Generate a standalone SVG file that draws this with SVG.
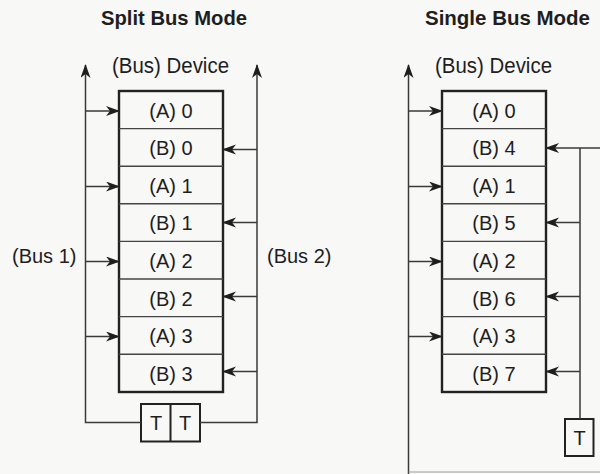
<svg xmlns="http://www.w3.org/2000/svg" width="600" height="474" viewBox="0 0 600 474">
<defs>
<marker id="ah" markerWidth="14" markerHeight="11" refX="13" refY="5" orient="auto" markerUnits="userSpaceOnUse">
<path d="M0,0 L14,5 L0,10 L4,5 z" fill="#1e1e1e"/>
</marker>
<style>
.t{font-family:"Liberation Sans",Arial,sans-serif;fill:#1e1e1e}
.title{font-size:21px;font-weight:bold}
.hdr{font-size:22px}
.cell{font-size:20px;text-anchor:middle}
.lbl{font-size:20px}
.box{fill:none;stroke:#222;stroke-width:2.4}
.row{stroke:#444;stroke-width:1.4}
.bus{fill:none;stroke:#3a3a3a;stroke-width:1.5}
.arr{fill:none;stroke:#3a3a3a;stroke-width:1.5;marker-end:url(#ah)}
.tb{fill:none;stroke:#222;stroke-width:2}
</style>
</defs>
<rect width="600" height="474" fill="#f8f8f7"/>

<text class="t title" x="101" y="24.5" textLength="146" lengthAdjust="spacingAndGlyphs">Split Bus Mode</text>
<text class="t title" x="425" y="24.5" textLength="165" lengthAdjust="spacingAndGlyphs">Single Bus Mode</text>

<g id="split-device">
<text class="t hdr" x="112" y="72.5" textLength="117" lengthAdjust="spacingAndGlyphs">(Bus) Device</text>
<rect class="box" x="119" y="91" width="104" height="301"/>
<g class="row">
<line x1="119" y1="128.6" x2="223" y2="128.6"/>
<line x1="119" y1="166.2" x2="223" y2="166.2"/>
<line x1="119" y1="203.8" x2="223" y2="203.8"/>
<line x1="119" y1="241.4" x2="223" y2="241.4"/>
<line x1="119" y1="279" x2="223" y2="279"/>
<line x1="119" y1="316.6" x2="223" y2="316.6"/>
<line x1="119" y1="354.2" x2="223" y2="354.2"/>
</g>
<text class="t cell" x="171" y="117.5">(A) 0</text>
<text class="t cell" x="171" y="155">(B) 0</text>
<text class="t cell" x="171" y="192.5">(A) 1</text>
<text class="t cell" x="171" y="230">(B) 1</text>
<text class="t cell" x="171" y="268">(A) 2</text>
<text class="t cell" x="171" y="305.5">(B) 2</text>
<text class="t cell" x="171" y="343">(A) 3</text>
<text class="t cell" x="171" y="380.5">(B) 3</text>
</g>

<g id="split-terminators">
<rect class="tb" x="141" y="404" width="59" height="37.5"/>
<line class="tb" x1="170.5" y1="404" x2="170.5" y2="441.5"/>
<text class="t cell" x="156" y="430">T</text>
<text class="t cell" x="185" y="430">T</text>
</g>

<g id="split-labels">
<text class="t lbl" x="12" y="263">(Bus 1)</text>
<text class="t lbl" x="267" y="263">(Bus 2)</text>
</g>

<g id="single-device">
<text class="t hdr" x="435" y="72.5" textLength="117" lengthAdjust="spacingAndGlyphs">(Bus) Device</text>
<rect class="box" x="442" y="91" width="104" height="301"/>
<g class="row">
<line x1="442" y1="128.6" x2="546" y2="128.6"/>
<line x1="442" y1="166.2" x2="546" y2="166.2"/>
<line x1="442" y1="203.8" x2="546" y2="203.8"/>
<line x1="442" y1="241.4" x2="546" y2="241.4"/>
<line x1="442" y1="279" x2="546" y2="279"/>
<line x1="442" y1="316.6" x2="546" y2="316.6"/>
<line x1="442" y1="354.2" x2="546" y2="354.2"/>
</g>
<text class="t cell" x="494" y="117.5">(A) 0</text>
<text class="t cell" x="494" y="155">(B) 4</text>
<text class="t cell" x="494" y="192.5">(A) 1</text>
<text class="t cell" x="494" y="230">(B) 5</text>
<text class="t cell" x="494" y="268">(A) 2</text>
<text class="t cell" x="494" y="305.5">(B) 6</text>
<text class="t cell" x="494" y="343">(A) 3</text>
<text class="t cell" x="494" y="380.5">(B) 7</text>
</g>

<g id="single-terminator">
<rect class="tb" x="565" y="419" width="28.5" height="37"/>
<text class="t cell" x="579.5" y="445">T</text>
</g>

<g id="connectors">
<path class="bus" d="M141,422.5 H85.5 V65" marker-end="url(#ah)"/>
<line class="arr" x1="85.5" y1="111" x2="119" y2="111"/>
<line class="arr" x1="85.5" y1="186.5" x2="119" y2="186.5"/>
<line class="arr" x1="85.5" y1="261.5" x2="119" y2="261.5"/>
<line class="arr" x1="85.5" y1="336.5" x2="119" y2="336.5"/>
<path class="bus" d="M200,422.5 H257 V65" marker-end="url(#ah)"/>
<line class="arr" x1="257" y1="149.5" x2="223" y2="149.5"/>
<line class="arr" x1="257" y1="222.5" x2="223" y2="222.5"/>
<line class="arr" x1="257" y1="296.5" x2="223" y2="296.5"/>
<line class="arr" x1="257" y1="371.5" x2="223" y2="371.5"/>
<path class="bus" d="M408.5,474 V65" marker-end="url(#ah)"/>
<line x1="408.5" y1="472" x2="600" y2="472" stroke="#9a9a9a" stroke-width="1.2"/>
<line class="arr" x1="408.5" y1="111" x2="442" y2="111"/>
<line class="arr" x1="408.5" y1="186.5" x2="442" y2="186.5"/>
<line class="arr" x1="408.5" y1="261.5" x2="442" y2="261.5"/>
<line class="arr" x1="408.5" y1="336.5" x2="442" y2="336.5"/>
<line class="arr" x1="600" y1="148" x2="546" y2="148" stroke-width="2"/>
<path class="bus" d="M580,148 V419"/>
<line class="arr" x1="580" y1="222.5" x2="546" y2="222.5"/>
<line class="arr" x1="580" y1="296.5" x2="546" y2="296.5"/>
<line class="arr" x1="580" y1="371.5" x2="546" y2="371.5"/>
</g>
</svg>
